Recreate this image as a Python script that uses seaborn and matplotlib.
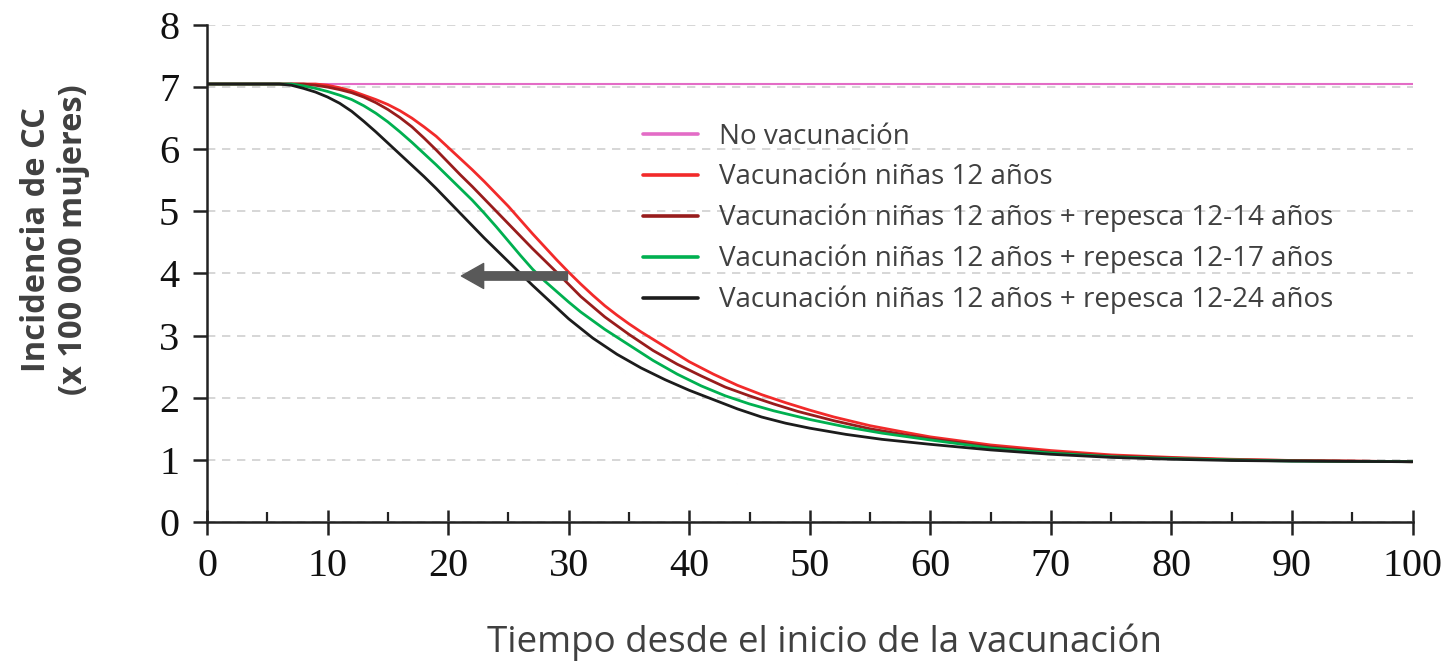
import numpy as np
import pandas as pd
import matplotlib
matplotlib.use("Agg")
import matplotlib.pyplot as plt
import seaborn as sns

# series (time, incidence x 100 000)
t_nv = [0, 100]
v_nv = [7.05, 7.05]

t_12 = [0, 8, 9, 10, 11, 12, 13, 14, 15, 16, 17, 18, 19, 20, 21, 22, 23, 24, 25, 26, 27, 28, 29,
        30, 31, 32, 33, 34, 35, 36, 37, 38, 40, 42, 44, 46, 48, 50, 52, 55, 58, 60, 65, 70, 75,
        80, 85, 90, 95, 100]
v_12 = [7.05, 7.05, 7.05, 7.03, 6.99, 6.94, 6.87, 6.80, 6.72, 6.62, 6.50, 6.36, 6.21, 6.03, 5.85,
        5.67, 5.48, 5.28, 5.08, 4.86, 4.64, 4.43, 4.22, 4.02, 3.83, 3.65, 3.48, 3.33, 3.19, 3.06,
        2.94, 2.82, 2.58, 2.38, 2.20, 2.05, 1.92, 1.80, 1.69, 1.55, 1.44, 1.37, 1.24, 1.15, 1.08,
        1.04, 1.01, 0.99, 0.98, 0.97]

t_14 = [0, 8, 9, 10, 11, 12, 13, 14, 15, 16, 17, 18, 19, 20, 21, 22, 23, 24, 25, 26, 27, 28, 29,
        31, 33, 35, 37, 39, 41, 43, 45, 47, 49, 52, 55, 58, 60, 65, 70, 75, 80, 85, 90, 100]
v_14 = [7.05, 7.05, 7.03, 7.00, 6.96, 6.91, 6.84, 6.75, 6.64, 6.51, 6.36, 6.18, 5.99, 5.79, 5.59,
        5.40, 5.20, 5.00, 4.80, 4.60, 4.40, 4.21, 4.02, 3.63, 3.30, 3.02, 2.76, 2.54, 2.35, 2.17,
        2.03, 1.90, 1.78, 1.63, 1.50, 1.40, 1.34, 1.21, 1.12, 1.06, 1.03, 1.00, 0.99, 0.97]

t_17 = [0, 7, 8, 9, 10, 11, 12, 13, 14, 15, 16, 17, 18, 19, 20, 21, 22, 23, 24, 25, 26, 27, 28,
        29, 30, 31, 33, 35, 37, 39, 41, 43, 45, 47, 50, 53, 56, 60, 65, 70, 75, 80, 85, 90, 100]
v_17 = [7.05, 7.05, 7.02, 6.98, 6.93, 6.87, 6.80, 6.70, 6.58, 6.44, 6.28, 6.11, 5.93, 5.75, 5.56,
        5.37, 5.18, 4.97, 4.75, 4.52, 4.29, 4.07, 3.88, 3.71, 3.54, 3.38, 3.10, 2.85, 2.60, 2.38,
        2.19, 2.03, 1.90, 1.79, 1.65, 1.53, 1.43, 1.32, 1.19, 1.11, 1.05, 1.02, 1.00, 0.98, 0.97]

t_24 = [0, 6, 7, 8, 9, 10, 11, 12, 13, 14, 15, 16, 17, 18, 19, 20, 21, 22, 23, 24, 25, 26, 27,
        28, 29, 30, 32, 34, 36, 38, 40, 42, 44, 46, 48, 50, 53, 56, 60, 65, 70, 75, 80, 85, 90, 100]
v_24 = [7.05, 7.05, 7.03, 6.98, 6.92, 6.84, 6.74, 6.61, 6.45, 6.28, 6.10, 5.92, 5.74, 5.56, 5.37,
        5.17, 4.97, 4.77, 4.57, 4.38, 4.19, 4.00, 3.81, 3.63, 3.45, 3.27, 2.96, 2.70, 2.48, 2.29,
        2.12, 1.97, 1.82, 1.69, 1.59, 1.51, 1.41, 1.33, 1.25, 1.16, 1.09, 1.04, 1.01, 0.99, 0.98,
        0.97]

labels = ["No vacunación",
          "Vacunación niñas 12 años",
          "Vacunación niñas 12 años + repesca 12-14 años",
          "Vacunación niñas 12 años + repesca 12-17 años",
          "Vacunación niñas 12 años + repesca 12-24 años"]
colors = ["#e36cc6", "#f22a2a", "#981c1c", "#00b050", "#1c1c1c"]
series = [(t_nv, v_nv), (t_12, v_12), (t_14, v_14), (t_17, v_17), (t_24, v_24)]

sns.set_style("white")
plt.rcParams["font.family"] = ["Open Sans", "DejaVu Sans"]

fig = plt.figure(figsize=(14.52, 6.63), dpi=100)
ax = fig.add_axes([0.1426, 0.2127, 0.8302, 0.7496])

for (t, v), lab, c in zip(series, labels, colors):
    df = pd.DataFrame({"t": t, "v": v})
    sns.lineplot(data=df, x="t", y="v", ax=ax, color=c, lw=1.5 if c == colors[0] else 2.0,
                 label=lab, estimator=None, sort=False)

ax.set_xlim(0, 100)
ax.set_ylim(0, 8)
ax.set_xticks(np.arange(0, 101, 10))
ax.set_xticks(np.arange(5, 100, 10), minor=True)
ax.set_yticks(np.arange(0, 9, 1))

ax.yaxis.grid(True, linestyle=(0, (5, 4)), color="#cfcfcf", lw=1.2)
ax.set_axisbelow(True)
for s in ["top", "right"]:
    ax.spines[s].set_visible(False)
for s in ["left", "bottom"]:
    ax.spines[s].set_color("#222222")
    ax.spines[s].set_linewidth(1.8)

ax.tick_params(axis="x", which="major", bottom=True, direction="inout", length=18, width=1.8,
               color="#222222", pad=10)
ax.tick_params(axis="x", which="minor", bottom=True, direction="in", length=7, width=1.6, color="#222222")
ax.tick_params(axis="y", left=True, direction="out", length=10, width=1.8, color="#222222", pad=10)
for lab in ax.get_xticklabels() + ax.get_yticklabels():
    lab.set_fontfamily("Liberation Serif")
    lab.set_fontsize(29)
    lab.set_color("#111111")

ax.set_xlabel("Tiempo desde el inicio de la vacunación", fontsize=26.5, color="#404040", va="top")
ax.xaxis.set_label_coords(0.512, -0.205)
ax.set_ylabel("Incidencia de CC\n(x 100 000 mujeres)", fontsize=23.5, fontweight="bold",
              color="#404040", linespacing=1.15)
ax.yaxis.set_label_coords(-0.097, 0.569)

ax.annotate("", xy=(21.1, 3.96), xytext=(29.9, 3.96),
            arrowprops=dict(arrowstyle="simple,head_length=0.8,head_width=0.9,tail_width=0.3",
                            mutation_scale=20, color="#595959", shrinkA=0, shrinkB=0))

leg = ax.legend(loc="upper left", bbox_to_anchor=(0.3615, 0.803), frameon=False, fontsize=20,
                handlelength=2.0, handletextpad=0.75, labelspacing=0.45, borderpad=0, borderaxespad=0)
for txt in leg.get_texts():
    txt.set_color("#404040")
for h in leg.get_lines():
    h.set_linewidth(2.6)

fig.savefig("out.png", dpi=100)
